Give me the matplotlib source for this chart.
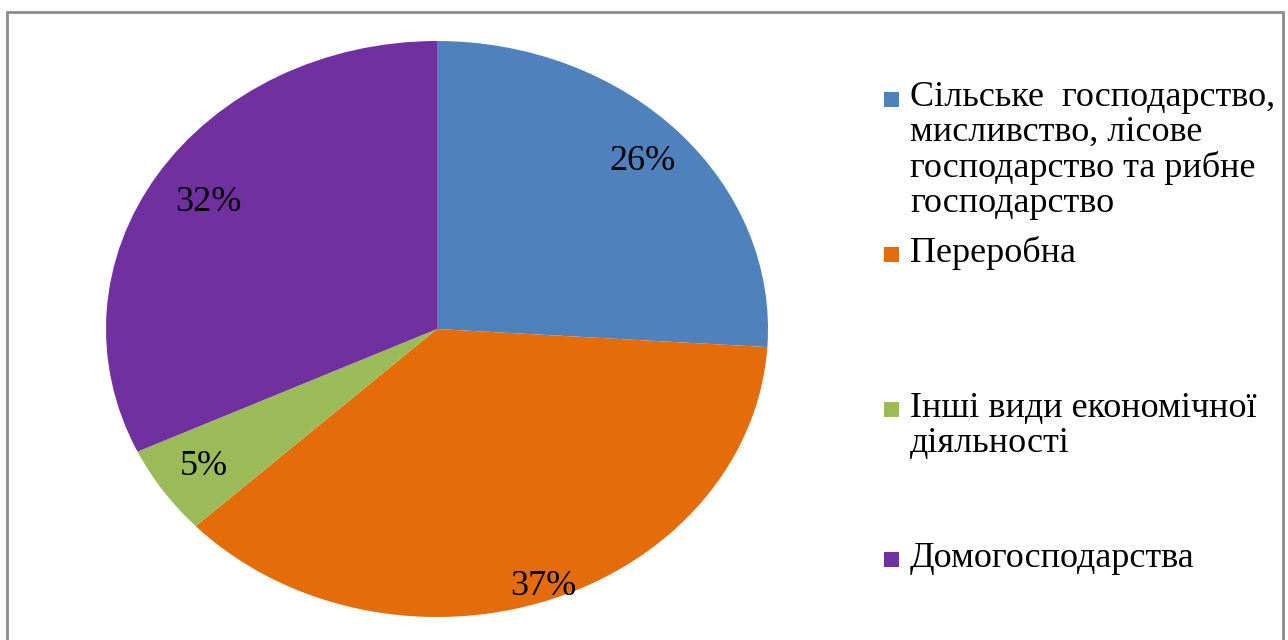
import matplotlib
matplotlib.use("Agg")
import matplotlib.pyplot as plt
import numpy as np
from matplotlib.patches import Rectangle

categories = [
    "Сільське  господарство,\nмисливство, лісове\nгосподарство та рибне\nгосподарство",
    "Переробна",
    "Інші види економічної\nдіяльності",
    "Домогосподарства",
]
values = [26, 37, 5, 32]
colors = ["#4F81BD", "#E46C0A", "#9BBB59", "#7030A0"]
label_dist = [0.85, 0.95, 0.85, 0.82]

plt.rcParams['font.family'] = ['Liberation Serif', 'DejaVu Serif']

W, H = 1288, 640
fig = plt.figure(figsize=(W / 100, H / 100), dpi=100)

# outer border
fig.patches.append(Rectangle((7 / W, -0.05), (1283 - 7) / W, (640 - 12) / H + 0.05,
                             transform=fig.transFigure, fill=False,
                             edgecolor="#8C8C8C", linewidth=2))

cx, cy, rx, ry = 437, 329, 331, 288
ax = fig.add_axes([(cx - rx) / W, (H - cy - ry) / H, 2 * rx / W, 2 * ry / H])
wedges, _ = ax.pie(values, colors=colors, startangle=90, counterclock=False,
                   wedgeprops=dict(linewidth=0))
ax.set_aspect('auto')
ax.set_xlim(-1, 1)
ax.set_ylim(-1, 1)
ax.axis('off')

for w, v, d in zip(wedges, values, label_dist):
    ang = np.deg2rad((w.theta1 + w.theta2) / 2)
    ax.text(d * np.cos(ang), d * np.sin(ang), f"{v}%", ha='center', va='center',
            fontsize=26, color='black')

# legend (baseline of first line of each entry, in pixels from top)
leg_base = [107, 262, 417, 567]
line_px = 35
for lab, col, y in zip(categories, colors, leg_base):
    fig.patches.append(Rectangle((884 / W, (H - y) / H), 15 / W, 15 / H,
                                 transform=fig.transFigure, facecolor=col, edgecolor='none'))
    y_last = y + line_px * lab.count("\n")
    fig.text(910 / W, (H - y_last) / H, lab, ha='left', va='baseline', fontsize=26,
             linespacing=1.08)

fig.savefig("out.png", dpi=100)
